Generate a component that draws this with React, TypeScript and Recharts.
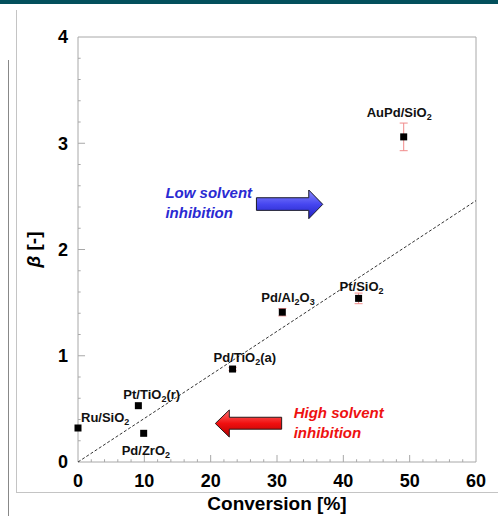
import {
  ErrorBar,
  Label,
  ReferenceArea,
  ReferenceLine,
  Scatter,
  ScatterChart,
  XAxis,
  YAxis,
} from "recharts";

const FONT = "'Liberation Sans', Arial, sans-serif";
const GRAY = "#a8a8a8";

// catalyst data
const catalysts = ["Ru/SiO2", "Pt/TiO2(r)", "Pd/ZrO2", "Pd/TiO2(a)", "Pd/Al2O3", "Pt/SiO2", "AuPd/SiO2"];
const conversion = [0, 9.1, 9.9, 23.3, 30.8, 42.3, 49.1];
const beta = [0.32, 0.53, 0.27, 0.875, 1.41, 1.54, 3.06];
const betaErr = [0, 0, 0, 0.015, 0.035, 0.05, 0.13];

const xTicks = [0, 10, 20, 30, 40, 50, 60];
const yTicks = [0, 1, 2, 3, 4];
const trendStart = { x: 0, y: 0 };
const trendEnd = { x: 60, y: 2.46 };

const lowText = ["Low solvent", "inhibition"];
const highText = ["High solvent", "inhibition"];

// label offsets from the point centre (px): left edge, baseline
const labelPos: Record<string, [number, number]> = {
  "Ru/SiO2": [3, -6],
  "Pt/TiO2(r)": [-15, -7],
  "Pd/ZrO2": [-22, 22],
  "Pd/TiO2(a)": [-19, -7],
  "Pd/Al2O3": [-21, -10],
  "Pt/SiO2": [-19, -7],
  "AuPd/SiO2": [-37, -20],
};

const points = catalysts.map((name, i) => ({
  name,
  x: conversion[i],
  y: beta[i],
  err: betaErr[i],
}));

const xMinor = Array.from({ length: 31 }, (_, i) => i * 2).filter((v) => v % 10 !== 0);
const yMinor = Array.from({ length: 21 }, (_, i) => +(i * 0.2).toFixed(1)).filter(
  (v) => v % 1 !== 0
);

function Formula({ text, x, y }: { text: string; x: number; y: number }) {
  const parts = text.match(/\d+|\D+/g) || [];
  let prevSub = false;
  return (
    <text x={x} y={y} fontSize={13} fontWeight="bold" fill="#111" fontFamily={FONT}>
      {parts.map((p, i) => {
        const isSub = /^\d+$/.test(p);
        const dy = isSub ? 3 : prevSub ? -3 : 0;
        prevSub = isSub;
        return (
          <tspan key={i} dy={dy} fontSize={isSub ? 9 : 13}>
            {p}
          </tspan>
        );
      })}
    </text>
  );
}

function PointShape(props: any) {
  const { cx, cy, payload } = props;
  const [dx, dy] = labelPos[payload.name] || [0, -10];
  return (
    <g>
      <rect x={cx - 3.5} y={cy - 3.5} width={7} height={7} fill="#000" />
      <Formula text={payload.name} x={cx + dx} y={cy + dy} />
    </g>
  );
}

function arrowPath(x: number, y: number, w: number, h: number, right: boolean) {
  const hl = 14;
  const bt = y + h * 0.27;
  const bb = y + h * 0.71;
  if (right) {
    return `M${x},${bt} L${x + w - hl},${bt} L${x + w - hl},${y} L${x + w},${y + h / 2} L${x + w - hl},${y + h} L${x + w - hl},${bb} L${x},${bb} Z`;
  }
  return `M${x + w},${bt} L${x + hl},${bt} L${x + hl},${y} L${x},${y + h / 2} L${x + hl},${y + h} L${x + hl},${bb} L${x + w},${bb} Z`;
}

function BlueArrow(props: any) {
  const { x, y, width, height } = props;
  return (
    <g>
      <defs>
        <linearGradient id="blueGrad" x1="0" y1="0" x2="0" y2="1">
          <stop offset="0%" stopColor="#8a8aff" />
          <stop offset="50%" stopColor="#4646f0" />
          <stop offset="100%" stopColor="#2020c0" />
        </linearGradient>
      </defs>
      <path d={arrowPath(x, y, width, height, true)} fill="url(#blueGrad)" stroke="#1a1a2a" strokeWidth={1} />
      {lowText.map((t, i) => (
        <text
          key={t}
          x={x - 91}
          y={y + 8 + i * 20}
          fontSize={15}
          fontWeight="bold"
          fontStyle="italic"
          fill="#2a2ad2"
          fontFamily={FONT}
        >
          {t}
        </text>
      ))}
    </g>
  );
}

function RedArrow(props: any) {
  const { x, y, width, height } = props;
  return (
    <g>
      <defs>
        <linearGradient id="redGrad" x1="0" y1="0" x2="0" y2="1">
          <stop offset="0%" stopColor="#ff7070" />
          <stop offset="50%" stopColor="#f01010" />
          <stop offset="100%" stopColor="#b00000" />
        </linearGradient>
      </defs>
      <path d={arrowPath(x, y, width, height, false)} fill="url(#redGrad)" stroke="#2a1a1a" strokeWidth={1} />
      {highText.map((t, i) => (
        <text
          key={t}
          x={x + width + 12}
          y={y + 8 + i * 20}
          fontSize={15}
          fontWeight="bold"
          fontStyle="italic"
          fill="#ee1111"
          fontFamily={FONT}
        >
          {t}
        </text>
      ))}
    </g>
  );
}

const tickStyle = { fontSize: 18, fontWeight: "bold", fill: "#000", fontFamily: FONT };

export default function App() {
  return (
    <div style={{ position: "absolute", left: 0, top: 0, width: 498, height: 516, background: "#fff", fontFamily: FONT }}>
      <div style={{ position: "absolute", left: 0, top: 0, width: 498, height: 4, background: "#03505c" }} />
      <div style={{ position: "absolute", left: 16, top: 10, width: 1, height: 482, background: "#c4c4c4" }} />
      <div style={{ position: "absolute", left: 8, top: 60, width: 1, height: 456, background: "#888" }} />
      <div style={{ position: "absolute", left: 16, top: 492, width: 482, height: 1, background: "#c4c4c4" }} />
      <div style={{ position: "absolute", left: 0, top: 0 }}>
        <ScatterChart width={498} height={516} margin={{ top: 37, right: 22, bottom: 0, left: 18 }}>
          <XAxis
            type="number"
            dataKey="x"
            domain={[0, 60]}
            ticks={xTicks}
            tick={tickStyle}
            tickSize={0}
            tickMargin={12}
            axisLine={false}
            height={54}
          >
            <Label
              content={({ viewBox }: any) => (
                <text
                  x={viewBox.x + viewBox.width / 2}
                  y={viewBox.y + 48}
                  textAnchor="middle"
                  fontSize={19}
                  fontWeight="bold"
                  fill="#000"
                  fontFamily={FONT}
                >
                  Conversion [%]
                </text>
              )}
            />
          </XAxis>
          <YAxis
            type="number"
            dataKey="y"
            domain={[0, 4]}
            ticks={yTicks}
            tick={tickStyle}
            tickSize={0}
            tickMargin={10}
            axisLine={false}
            width={60}
          >
            <Label
              content={({ viewBox }: any) => {
                const cx = viewBox.x + 17;
                const cy = viewBox.y + viewBox.height / 2;
                return (
                  <text
                    x={cx}
                    y={cy}
                    transform={`rotate(-90 ${cx} ${cy})`}
                    textAnchor="middle"
                    dominantBaseline="middle"
                    fontSize={19}
                    fontWeight="bold"
                    fill="#000"
                    fontFamily={FONT}
                  >
                    <tspan fontStyle="italic">β</tspan>
                    <tspan> [-]</tspan>
                  </text>
                );
              }}
            />
          </YAxis>

          <ReferenceArea x1={0} x2={60} y1={0} y2={4} fill="none" stroke={GRAY} strokeWidth={1} />

          {xTicks.slice(1, -1).map((v) => (
            <ReferenceLine key={`xm${v}`} segment={[{ x: v, y: 0 }, { x: v, y: 0.066 }]} stroke={GRAY} />
          ))}
          {xMinor.map((v) => (
            <ReferenceLine key={`xn${v}`} segment={[{ x: v, y: 0 }, { x: v, y: 0.026 }]} stroke={GRAY} />
          ))}
          {yTicks.slice(1, -1).map((v) => (
            <ReferenceLine key={`ym${v}`} segment={[{ x: 0, y: v }, { x: 1.06, y: v }]} stroke={GRAY} />
          ))}
          {yMinor.map((v) => (
            <ReferenceLine key={`yn${v}`} segment={[{ x: 0, y: v }, { x: 0.4, y: v }]} stroke={GRAY} />
          ))}

          <ReferenceLine
            segment={[trendStart, trendEnd]}
            stroke="#333"
            strokeWidth={1}
            strokeDasharray="3 2"
          />

          <ReferenceArea x1={26.9} x2={36.9} y1={2.29} y2={2.56} shape={<BlueArrow />} />
          <ReferenceArea x1={20.7} x2={30.7} y1={0.235} y2={0.49} shape={<RedArrow />} />

          <Scatter data={points} isAnimationActive={false} shape={<PointShape />}>
            <ErrorBar dataKey="err" direction="y" width={4} stroke="#f08a8a" strokeWidth={1} />
          </Scatter>
        </ScatterChart>
      </div>
    </div>
  );
}
